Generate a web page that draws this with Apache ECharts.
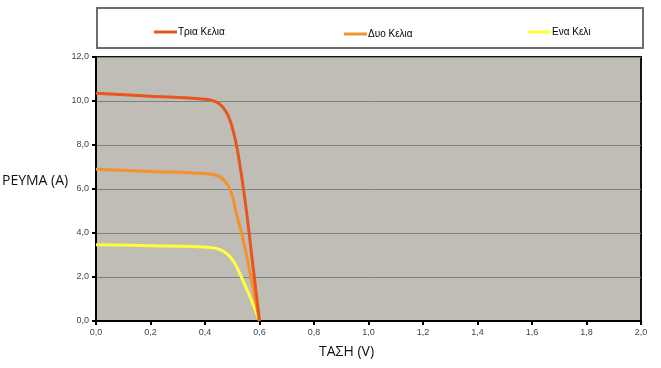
<!DOCTYPE html>
<html><head><meta charset="utf-8">
<script src="https://cdn.jsdelivr.net/npm/echarts@6/dist/echarts.min.js"></script>
<style>html,body{margin:0;padding:0;background:#fff}#c{width:661px;height:368px}</style>
</head><body><div id="c"></div>
<script>
const seriesNames = ['Τρια Κελια', 'Δυο Κελια', 'Ενα Κελι'];
const triaV = [0, 0.2, 0.4, 0.45, 0.48, 0.5, 0.52, 0.55, 0.575, 0.6];
const triaI = [10.35, 10.22, 10.08, 9.9, 9.45, 8.8, 7.7, 5.2, 2.6, 0];
const dyoV = [0, 0.2, 0.4, 0.45, 0.48, 0.5, 0.515, 0.54, 0.565, 0.6];
const dyoI = [6.9, 6.8, 6.7, 6.58, 6.25, 5.7, 4.9, 3.7, 2.2, 0];
const enaV = [0, 0.2, 0.42, 0.46, 0.49, 0.51, 0.527, 0.565, 0.6];
const enaI = [3.47, 3.42, 3.34, 3.22, 2.95, 2.6, 2.18, 1.1, 0];
const xTitle = 'ΤΑΣΗ (V)';
const yTitle = 'PEYMA (A)';

const pairs = (xs, ys) => xs.map((x, i) => [x, ys[i]]);
const colors = ['#E8561E', '#F3922A', '#FFFF3A'];
const fmt = v => v.toFixed(1).replace('.', ',');

const chart = echarts.init(document.getElementById('c'));
const legendBase = {
  icon: 'rect', itemWidth: 23, itemHeight: 3, padding: 0,
  textStyle: { fontFamily: 'Liberation Sans, Arial', fontSize: 10, color: '#000', padding: [0, 0, 0, -4] }
};
const lineS = (i, xs, ys, z) => ({
  name: seriesNames[i], type: 'line', data: pairs(xs, ys), smooth: 0.35, showSymbol: false,
  lineStyle: { width: 3, color: colors[i] }, itemStyle: { color: colors[i] }, z: z
});
chart.setOption({
  animation: false,
  color: colors,
  graphic: [
    { type: 'rect', shape: { x: 97, y: 8, width: 546, height: 40 }, style: { fill: '#fff', stroke: '#6e6e6e', lineWidth: 2 }, z: -1 },
    { type: 'text', left: 2, top: 174, style: { text: yTitle, font: '14px "Open Sans", sans-serif', fill: '#111' } },
    { type: 'text', left: 319, top: 345, style: { text: xTitle, font: '14px "Open Sans", sans-serif', fill: '#111' } }
  ],
  legend: [
    Object.assign({ data: [seriesNames[0]], left: 154, top: 27 }, legendBase),
    Object.assign({ data: [seriesNames[1]], left: 344, top: 29 }, legendBase),
    Object.assign({ data: [seriesNames[2]], left: 528, top: 27 }, legendBase)
  ],
  grid: { left: 96, right: 20, top: 57, bottom: 47, show: true, backgroundColor: '#C0BDB7', borderColor: '#111', borderWidth: 2 },
  xAxis: {
    type: 'value', min: 0, max: 2, interval: 0.2,
    axisLine: { show: true, lineStyle: { color: '#000', width: 2 } },
    axisTick: { show: true, length: 4, lineStyle: { color: '#000', width: 2 } },
    splitLine: { show: false },
    axisLabel: { formatter: fmt, fontFamily: 'Liberation Sans, Arial', fontSize: 9, color: '#444', margin: 7 }
  },
  yAxis: {
    type: 'value', min: 0, max: 12, interval: 2,
    axisLine: { show: true, lineStyle: { color: '#000', width: 2 } },
    axisTick: { show: true, length: 4, lineStyle: { color: '#000', width: 2 } },
    splitLine: { show: true, lineStyle: { color: '#808080', width: 1 } },
    axisLabel: { formatter: fmt, fontFamily: 'Liberation Sans, Arial', fontSize: 9, color: '#444', margin: 7 }
  },
  series: [
    lineS(2, enaV, enaI, 2),
    lineS(1, dyoV, dyoI, 3),
    lineS(0, triaV, triaI, 4)
  ]
});
</script>
</body></html>
